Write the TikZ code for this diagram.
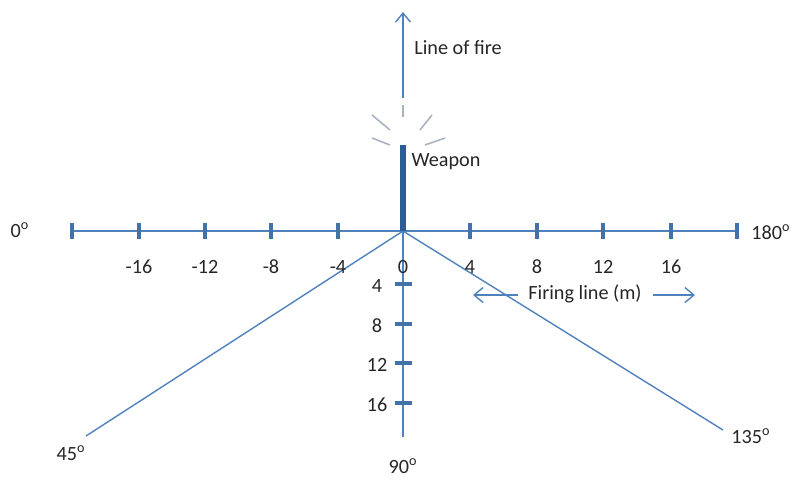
\documentclass[tikz,border=0pt]{standalone}
\usepackage{fontspec}
\setmainfont{Carlito}
\usetikzlibrary{arrows.meta,positioning}
\definecolor{axisblue}{RGB}{79,129,189}
\definecolor{tickblue}{RGB}{68,114,168}
\definecolor{weaponblue}{RGB}{47,91,147}
\definecolor{sparkgray}{RGB}{168,178,192}

\begin{document}
\begin{tikzpicture}[
    x=0.02cm, y=-0.02cm,
    axis/.style={draw=axisblue, line width=0.8pt},
    tickmark/.style={draw=tickblue, line width=2pt},
    spark/.style={draw=sparkgray, line width=0.9pt},
    lbl/.style={font=\fontsize{11.5}{13}\selectfont, text=black!85, inner sep=1pt},
    arr/.style={-{Straight Barb[length=1.8mm, width=3mm]}, axis}
]
\useasboundingbox (0,0) rectangle (804,481);
% frame of the firing range
\coordinate (origin) at (403,231);
\coordinate (left) at (72,231);
\coordinate (right) at (737,231);
\coordinate (bottom) at (403,437);
\coordinate (muzzle) at (403,98);
\coordinate (top) at (403,12);
\coordinate (fortyfive) at (86,436);
\coordinate (onethirtyfive) at (723,430);
\draw[axis] (left) -- (right);
\draw[axis] (origin) -- (bottom);
\draw[axis] (origin) -- (fortyfive);
\draw[axis] (origin) -- (onethirtyfive);
\draw[arr] (muzzle) -- (top);
% weapon and muzzle flash
\draw[weaponblue, line width=3pt] (403,145) -- (origin);
\draw[spark] (403,105) -- (403,117);
\draw[spark] (372,115) -- (390,130);
\draw[spark] (372,138) -- (390,145);
\draw[spark] (432,115) -- (420,130);
\draw[spark] (445,138) -- (425,145);
% ticks along the firing line
\foreach \x/\v in {72/, 139/-16, 205/-12, 271/-8, 338/-4, 403/0, 470/4, 537/8, 603/12, 671/16, 737/} {
    \ifnum\x=403\else\draw[tickmark] (\x,223) -- (\x,239);\fi
    \node[lbl] (t\x) at (\x,267) {\v};
}
% ticks down range
\foreach \y/\v in {284/4, 324/8, 363/12, 403/16} {
    \draw[tickmark] (395,\y) -- (412,\y);
    \node[lbl] (d\y) at (377,\y+2) {\v};
}
% labels
\node[lbl] (fire) at (458,48) {Line of fire};
\node[lbl] (weapon) at (446,162) {Weapon};
\node[lbl] (deg0) at (20,230) {0\textsuperscript{o}};
\node[lbl] (deg180) at (771,232) {180\textsuperscript{o}};
\node[lbl] (deg45) at (71,453) {45\textsuperscript{o}};
\node[lbl] (deg135) at (751,436) {135\textsuperscript{o}};
\node[lbl] (deg90) at (403,466) {90\textsuperscript{o}};
\node[lbl] (firing) at (585,294) {Firing line (m)};
\coordinate (firingL) at (473,295);
\coordinate (firingR) at (695,295);
\draw[arr, shorten <=5pt] (firing.west |- firingL) -- (firingL);
\draw[arr, shorten <=5pt] (firing.east |- firingR) -- (firingR);
\end{tikzpicture}
\end{document}
